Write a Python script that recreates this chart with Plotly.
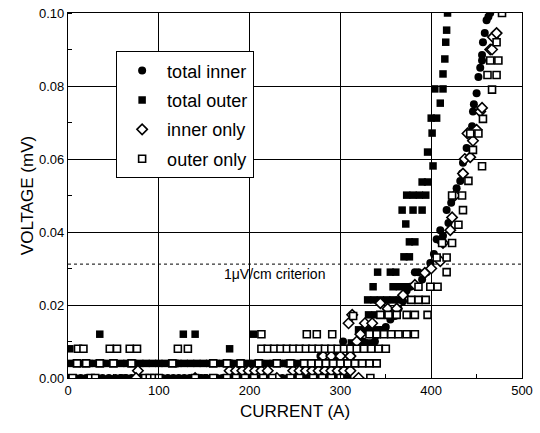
import plotly.graph_objects as go

# ---------------- data ----------------
# total inner (filled circles)
ti_low_x = [2, 8, 14, 20, 26, 32, 38, 45, 52, 58, 64, 70, 80, 86, 92, 98, 104, 110, 116, 122, 128,
            134, 140, 146, 152, 158, 164, 170, 176, 182, 188, 194, 200, 206, 212, 218, 224, 230, 236,
            242, 248, 254, 260, 266, 272, 278, 284, 290, 296, 302, 308,
            120, 180, 240, 270, 300, 278, 296, 310]
ti_low_y = [0.0] * 51 + [0.004] * 5 + [0.006] * 3
ti_rise_x = [303, 312, 318, 325, 332, 338, 344, 350, 355, 360, 364, 369, 373, 377, 382, 386, 390,
             395, 399, 403, 406, 410, 413, 417, 419, 422, 428, 432, 434, 435, 439, 442, 445, 446,
             447, 450, 452, 454, 456, 456, 457, 459, 461, 463, 465]
ti_rise_y = [0.010, 0.006, 0.008, 0.010, 0.012, 0.010, 0.013, 0.014, 0.016, 0.017, 0.019, 0.021,
             0.024, 0.025, 0.029, 0.029, 0.027, 0.029, 0.0315, 0.034, 0.038, 0.0405, 0.039, 0.046,
             0.0425, 0.048, 0.052, 0.054, 0.056, 0.059, 0.063, 0.067, 0.069, 0.073, 0.075, 0.078,
             0.0825, 0.085, 0.087, 0.0885, 0.092, 0.0945, 0.098, 0.099, 0.100]
total_inner_x = ti_low_x + ti_rise_x
total_inner_y = ti_low_y + ti_rise_y

# total outer (filled squares)
to_low_x = [35, 127, 140, 204,
            2, 178,
            2, 9, 16, 23, 30, 37, 44, 51, 58, 65, 72, 79, 86, 93, 100, 107, 114, 121, 128, 135, 142,
            149, 156, 163, 170, 177, 184, 191, 198, 205, 212, 219, 226, 233, 240, 247, 254, 261,
            268, 275, 282, 289, 296, 303, 310, 317,
            5, 60, 150, 250, 300]
to_low_y = [0.012] * 4 + [0.008] * 2 + [0.004] * 46 + [0.0] * 5
to_rise_x = [312, 319, 326, 333, 320, 327, 334, 341, 347, 331, 338, 345, 330, 337, 344, 351, 358,
             365, 336, 358, 365, 372, 341, 355, 361, 370, 376, 376, 382, 372, 368, 380, 390, 373,
             380, 387, 394, 390, 396, 402, 396, 401, 400, 406, 410, 404, 413, 413, 415, 416, 417, 418]
to_rise_y = [0.0096, 0.0096, 0.0096, 0.0096, 0.0132, 0.0132, 0.0132, 0.0132, 0.0132, 0.0173,
             0.0173, 0.0173, 0.0214, 0.0214, 0.0214, 0.0214, 0.0214, 0.0214, 0.025, 0.025, 0.025,
             0.025, 0.029, 0.029, 0.029, 0.0332, 0.0332, 0.0373, 0.0373, 0.0422, 0.046, 0.046,
             0.046, 0.0501, 0.0501, 0.0501, 0.0501, 0.0537, 0.0537, 0.0581, 0.0619, 0.0671,
             0.0712, 0.0712, 0.0753, 0.0792, 0.0792, 0.0833, 0.0874, 0.092, 0.0953, 0.100]
total_outer_x = to_low_x + to_rise_x
total_outer_y = to_low_y + to_rise_y

# inner only (open diamonds)
io_low_x = [77, 178, 185, 192, 199, 206, 213, 220, 248, 255, 262, 269, 276, 283, 290, 297, 304, 311,
            281, 290, 300, 311,
            75, 140, 230, 280, 320]
io_low_y = [0.002] * 18 + [0.006] * 4 + [0.0] * 5
io_rise_x = [309, 313, 318, 322, 327, 335, 340, 344, 352, 362, 369, 382, 393, 400, 410, 413, 421,
             423, 426, 435, 437, 443, 440, 446, 450, 454, 456, 465, 467, 468, 472]
io_rise_y = [0.015, 0.0173, 0.010, 0.012, 0.015, 0.015, 0.012, 0.0205, 0.019, 0.019, 0.0227,
             0.0255, 0.0288, 0.030, 0.032, 0.037, 0.0405, 0.044, 0.050, 0.056, 0.060, 0.0605,
             0.067, 0.065, 0.068, 0.073, 0.074, 0.090, 0.090, 0.0934, 0.0945]
inner_only_x = io_low_x + io_rise_x
inner_only_y = io_low_y + io_rise_y

# outer only (open squares)
oo_low_x = [213, 263, 274, 291,
            11, 17, 46, 54, 68, 76, 121, 132, 213, 220, 227, 234, 241, 248, 255, 262, 269, 276,
            283, 290, 297, 304, 311, 318, 326, 334, 342, 350,
            10, 20, 35, 50, 70, 115, 160, 175, 190, 210, 230, 245, 260, 268, 276, 284, 292, 300,
            308, 316, 324, 332, 340,
            5, 25, 30, 85, 90, 95, 100, 140, 160, 175, 185, 195, 205, 215, 225, 245, 255, 270, 280,
            290, 300, 333]
oo_low_y = [0.012] * 4 + [0.008] * 28 + [0.004] * 23 + [0.0] * 22
oo_rise_x = [314, 332, 340, 348, 356, 364, 373, 382, 344, 353, 362, 373, 382, 396, 378, 386, 394,
             386, 399, 407, 417, 406, 417, 412, 423, 430, 435, 423, 434, 441, 456, 446, 443, 452,
             457, 467, 462, 472, 465, 474, 472, 478]
oo_rise_y = [0.017, 0.012, 0.012, 0.012, 0.012, 0.012, 0.012, 0.012, 0.0173, 0.0173, 0.0173,
             0.0173, 0.0173, 0.0173, 0.0214, 0.0214, 0.0214, 0.025, 0.025, 0.025, 0.029, 0.033,
             0.033, 0.037, 0.037, 0.042, 0.046, 0.050, 0.050, 0.054, 0.058, 0.0625, 0.067, 0.067,
             0.071, 0.079, 0.083, 0.083, 0.087, 0.087, 0.092, 0.100]
outer_only_x = oo_low_x + oo_rise_x
outer_only_y = oo_low_y + oo_rise_y

criterion_v = 0.0312
criterion_label = "1\u03bcV/cm criterion"
x_ticks = [0, 100, 200, 300, 400, 500]
y_ticks = [0.00, 0.02, 0.04, 0.06, 0.08, 0.10]

# ---------------- figure ----------------
FONT = "Liberation Sans, Arial, sans-serif"
fig = go.Figure()

fig.add_trace(go.Scatter(x=total_inner_x, y=total_inner_y, mode="markers", name="total inner",
                         legendgroup="a",
                         marker=dict(symbol="circle", size=8, color="black", line=dict(width=0))))
fig.add_trace(go.Scatter(x=total_outer_x, y=total_outer_y, mode="markers", name="total outer",
                         legendgroup="b",
                         marker=dict(symbol="square", size=7.5, color="black", line=dict(width=0))))
fig.add_trace(go.Scatter(x=inner_only_x, y=inner_only_y, mode="markers", name="inner only",
                         legendgroup="c",
                         marker=dict(symbol="diamond", size=8, color="white",
                                     line=dict(width=1.6, color="black"))))
fig.add_trace(go.Scatter(x=outer_only_x, y=outer_only_y, mode="markers", name="outer only",
                         legendgroup="d",
                         marker=dict(symbol="square", size=7, color="white",
                                     line=dict(width=1.6, color="black"))))

fig.add_shape(type="line", xref="paper", x0=0, x1=1, yref="y", y0=criterion_v, y1=criterion_v,
              line=dict(color="black", width=1, dash="dot"), layer="below")
fig.add_annotation(x=170, y=0.0285, text=criterion_label, showarrow=False, xanchor="left",
                   yanchor="middle", font=dict(family=FONT, size=14, color="black"))

axis_common = dict(showline=True, linecolor="black", linewidth=1.3, mirror=True,
                   showgrid=True, gridcolor="black", gridwidth=1, zeroline=False,
                   automargin=False, ticklabeloverflow="allow",
                   ticks="", tickfont=dict(family=FONT, size=13, color="black"),
                   title_font=dict(family=FONT, size=17, color="black"),
                   minor=dict(ticks="inside", ticklen=4, tickcolor="black", showgrid=False))

fig.update_xaxes(range=[0, 500], tickvals=x_ticks, title_text="CURRENT (A)",
                 title_standoff=8, **axis_common)
fig.update_xaxes(minor_dtick=50)
fig.update_yaxes(range=[0, 0.1], tickvals=y_ticks, tickformat=".2f", title_text="VOLTAGE (mV)",
                 title_standoff=0, **axis_common)
fig.update_yaxes(minor_dtick=0.01)

fig.update_layout(
    width=540, height=433,
    margin=dict(l=68, r=18, t=13, b=55),
    paper_bgcolor="white", plot_bgcolor="white",
    font=dict(family=FONT, color="black"),
    showlegend=True,
    legend=dict(x=0.106, y=0.895, xanchor="left", yanchor="top",
                bgcolor="white", bordercolor="black", borderwidth=1,
                font=dict(family=FONT, size=18, color="black"),
                tracegroupgap=3, traceorder="grouped",
                itemwidth=40),
)

# remove the default page margin so the figure sits at the window's top-left corner
fig.write_html("out.html", config={"displayModeBar": False},
               post_script="document.body.style.margin='0';document.body.style.padding='0';")
